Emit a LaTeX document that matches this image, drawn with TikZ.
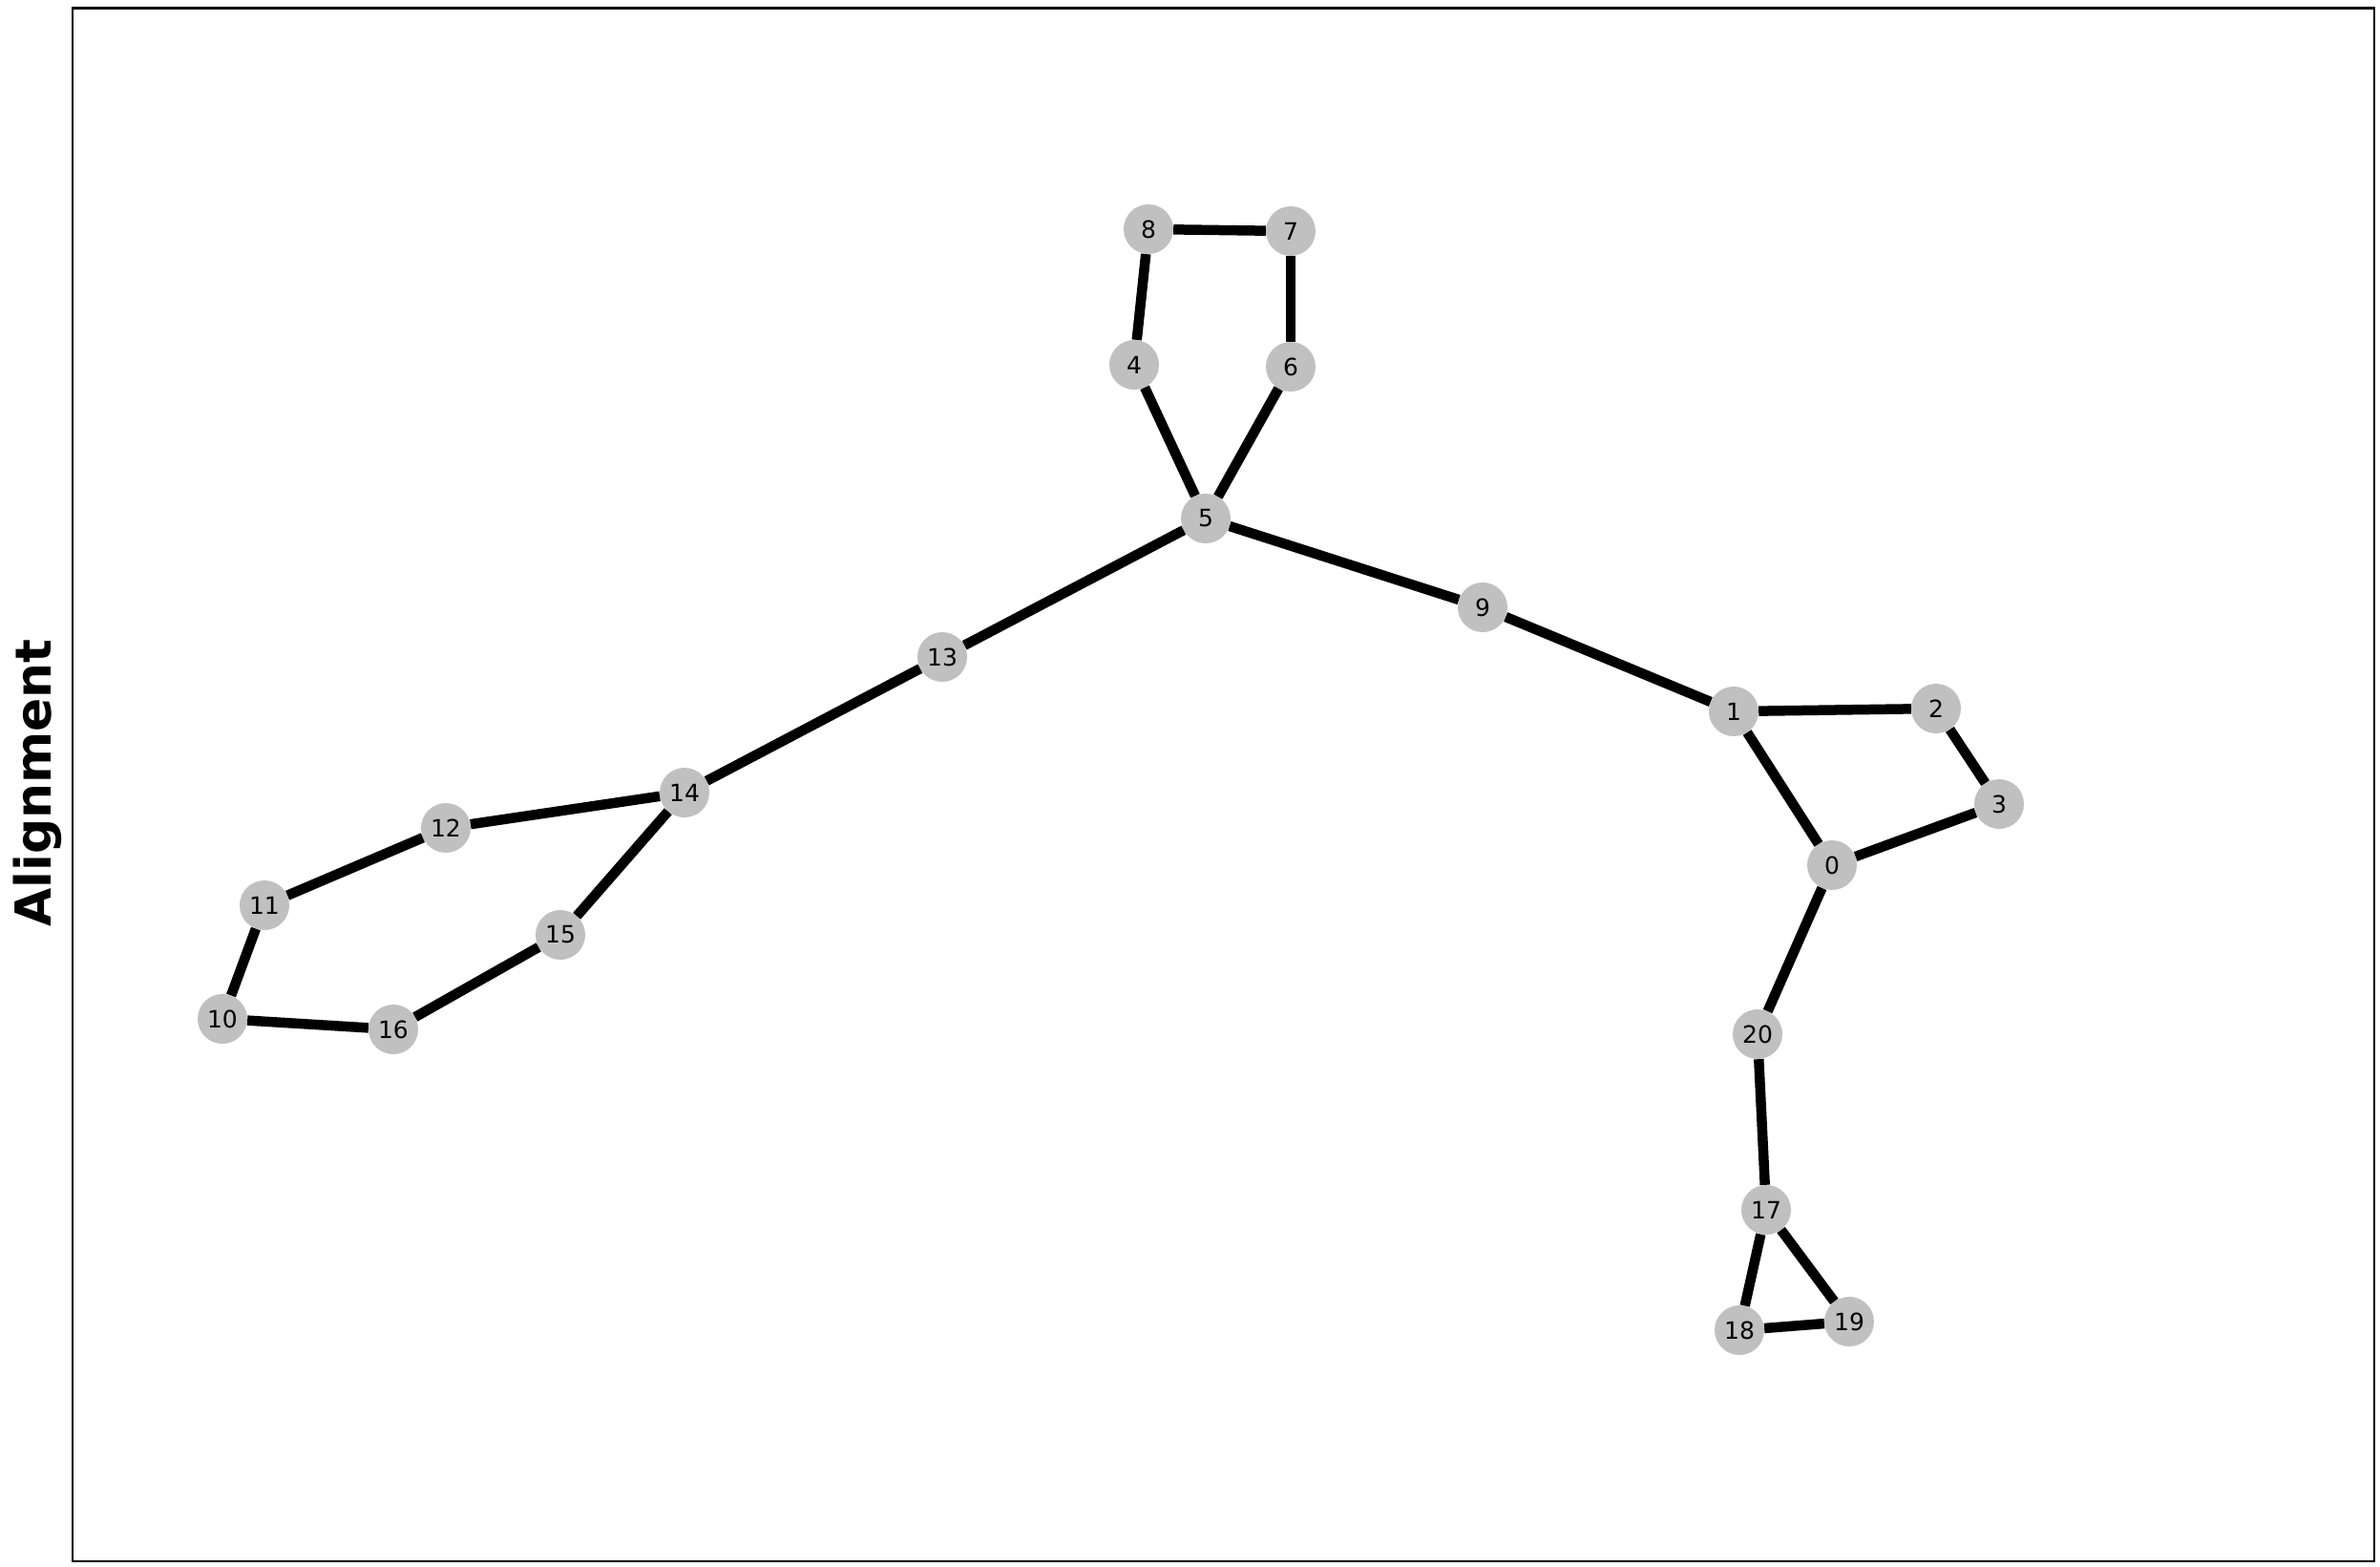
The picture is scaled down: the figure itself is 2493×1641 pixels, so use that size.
\documentclass[tikz,border=0pt]{standalone}
\usepackage{fontspec}
\setmainfont{DejaVu Sans}
\definecolor{nodegray}{HTML}{C0C0C0}
\begin{document}
\begin{tikzpicture}[x=1pt,y=-1pt,
  vtx/.style={circle,fill=nodegray,minimum size=52pt,inner sep=0pt,font=\fontsize{25}{25}\selectfont},
  edge/.style={line width=10.5pt,black}]
\useasboundingbox (0,0) rectangle (2493,1641);
\draw[line width=2.5pt] (76,8.5) rectangle (2487,1635);
\node[rotate=90,anchor=base,font=\fontsize{52}{52}\selectfont\bfseries] (ylab) at (53,820) {Alignment};
\node[vtx] (n0) at (1919,906) {0};
\node[vtx] (n1) at (1816,745) {1};
\node[vtx] (n2) at (2028,742) {2};
\node[vtx] (n3) at (2094,842) {3};
\node[vtx] (n4) at (1188,382) {4};
\node[vtx] (n5) at (1263,543) {5};
\node[vtx] (n6) at (1352,384) {6};
\node[vtx] (n7) at (1352,242) {7};
\node[vtx] (n8) at (1203,240) {8};
\node[vtx] (n9) at (1553,636) {9};
\node[vtx] (n10) at (233,1067) {10};
\node[vtx] (n11) at (277,948) {11};
\node[vtx] (n12) at (467,867) {12};
\node[vtx] (n13) at (987,688) {13};
\node[vtx] (n14) at (717,830) {14};
\node[vtx] (n15) at (587,979) {15};
\node[vtx] (n16) at (412,1078) {16};
\node[vtx] (n17) at (1850,1267) {17};
\node[vtx] (n18) at (1822,1393) {18};
\node[vtx] (n19) at (1937,1384) {19};
\node[vtx] (n20) at (1841,1083) {20};
\foreach \a/\b in {n8/n7,n8/n4,n7/n6,n4/n5,n6/n5,n5/n13,n5/n9,n9/n1,n1/n2,n1/n0,n2/n3,n3/n0,n0/n20,n20/n17,n17/n18,n17/n19,n18/n19,n13/n14,n14/n12,n14/n15,n12/n11,n11/n10,n10/n16,n16/n15}
  \draw[edge] (\a) -- (\b);
\end{tikzpicture}
\end{document}
